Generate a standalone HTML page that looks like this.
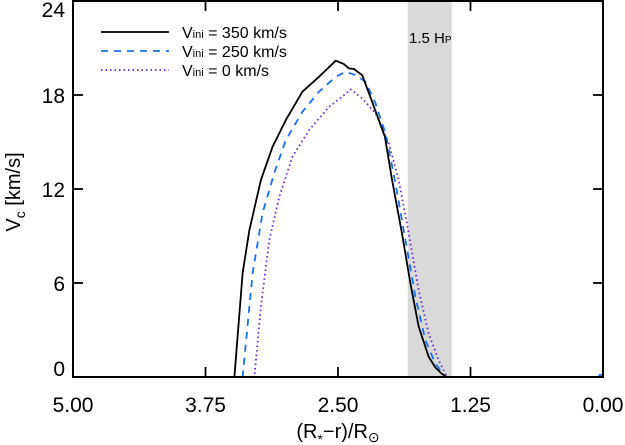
<!DOCTYPE html>
<html><head><meta charset="utf-8"><style>
body{margin:0;background:#fff;}
svg{display:block;font-family:"Liberation Sans",sans-serif;}
</style></head><body>
<svg id="chart" width="625" height="445" viewBox="0 0 625 445">
<rect x="407.7" y="1" width="44" height="376" fill="#d9d9d9"/>
<text x="409" y="43" font-size="15" fill="#000">1.5 H<tspan font-size="10">P</tspan></text>
<g id="series"></g>
<rect x="73" y="1" width="530" height="376" fill="none" stroke="#000" stroke-width="2"/>
<g id="ticks"></g>
<g>
<line x1="101" y1="32" x2="169" y2="32" stroke="#000" stroke-width="1.8"/>
<line x1="101" y1="51" x2="169" y2="51" stroke="#1a6ef5" stroke-width="1.8" stroke-dasharray="7,6"/>
<line x1="101" y1="70" x2="169" y2="70" stroke="#6a1fd6" stroke-width="1.8" stroke-dasharray="1.5,3"/>
<text x="182" y="38" font-size="16">V<tspan font-size="11">ini</tspan> = 350 km/s</text>
<text x="182" y="57" font-size="16">V<tspan font-size="11">ini</tspan> = 250 km/s</text>
<text x="182" y="76" font-size="16">V<tspan font-size="11">ini</tspan> = 0 km/s</text>
</g>
<text x="338" y="438" font-size="20" text-anchor="middle">(R<tspan font-size="14" dy="6">*</tspan><tspan dy="-6">−r)/R</tspan><tspan font-size="14" dy="4">⊙</tspan></text>
<text transform="translate(20,192) rotate(-90)" font-size="20" text-anchor="middle">V<tspan font-size="14" dy="5">c</tspan><tspan dy="-5"> [km/s]</tspan></text>
</svg>
<script>
const xTicks=[5.00,3.75,2.50,1.25,0.00];
const xTickLabels=["5.00","3.75","2.50","1.25","0.00"];
const yTicks=[0,6,12,18,24];
const yTickLabels=["0","6","12","18","24"];
const xBlack=[5,3.50,3.477,3.40,3.336,3.227,3.117,2.992,2.836,2.679,2.522,2.444,2.397,2.350,2.272,2.178,2.058,1.990,1.896,1.817,1.739,1.645,1.580,1.520,1.473,0];
const yBlack=[0,0,0,6.62,9.38,12.57,14.70,16.40,18.21,19.16,20.19,19.97,19.70,19.66,19.27,17.57,15.34,12.57,9.16,5.98,3.21,1.30,0.6,0.2,0,0];
const xBlue=[5,3.40,3.306,3.212,3.102,2.992,2.836,2.679,2.522,2.428,2.334,2.240,2.146,2.052,1.958,1.864,1.770,1.676,1.582,1.488,0.08,0.04,0.02,0];
const yBlue=[0,0,6.62,10.45,13.0,15.12,16.93,18.21,19.16,19.48,19.27,18.84,17.47,15.55,12.36,8.74,5.12,2.36,0.87,0,0,0.1,0.15,0];
const xPurple=[5,3.289,3.227,3.148,3.054,2.930,2.773,2.585,2.460,2.381,2.272,2.146,2.021,1.927,1.833,1.739,1.645,1.551,1.473,0];
const yPurple=[0,0,4.49,8.74,11.51,14.06,15.76,17.25,17.89,18.36,17.79,16.83,14.91,12.57,9.17,5.55,2.79,1.08,0,0];
const NS="http://www.w3.org/2000/svg";
const L=73,R=603,T=1,B=377;
function sx(v){return L+(5-v)/5*(R-L);}
function sy(v){return B-v/24*(B-T);}
const g=document.getElementById('series');
function drawLine(xs,ys,color,dash,name){
  const p=document.createElementNS(NS,'polyline');
  p.setAttribute('points',xs.map((x,i)=>sx(x).toFixed(1)+','+sy(ys[i]).toFixed(1)).join(' '));
  p.setAttribute('fill','none');p.setAttribute('stroke',color);p.setAttribute('stroke-width','1.8');
  p.setAttribute('stroke-linejoin','round');
  if(dash)p.setAttribute('stroke-dasharray',dash);
  
  
  g.appendChild(p);
}
drawLine(xPurple,yPurple,'#6a1fd6','1.5,3','series-vini-0');
drawLine(xBlue,yBlue,'#1a6ef5','7,6','series-vini-250');
drawLine(xBlack,yBlack,'#000','', 'series-vini-350');
const t=document.getElementById('ticks');
function mk(tag,attrs){const e=document.createElementNS(NS,tag);for(const k in attrs)e.setAttribute(k,attrs[k]);t.appendChild(e);return e;}
xTicks.forEach((v,i)=>{
  const x=sx(v);
  const a=mk('line',{x1:x,y1:B,x2:x,y2:B-10,stroke:'#000','stroke-width':1.8});
  
  
  const b=mk('line',{x1:x,y1:T,x2:x,y2:T+10,stroke:'#000','stroke-width':1.8});
  
  
  const tx=mk('text',{x:x,y:412,'font-size':21,'text-anchor':'middle'});
  tx.textContent=xTickLabels[i];
  
  
});
yTicks.forEach((v,i)=>{
  const y=sy(v);
  const a=mk('line',{x1:L,y1:y,x2:L+10,y2:y,stroke:'#000','stroke-width':1.8});
  
  
  const b=mk('line',{x1:R,y1:y,x2:R-10,y2:y,stroke:'#000','stroke-width':1.8});
  
  
  const ty=v===0?y-1:(v===24?y+16:y+8);
  const tx=mk('text',{x:65,y:ty,'font-size':21,'text-anchor':'end'});
  tx.textContent=yTickLabels[i];
  
  
});
</script>
</body></html>
